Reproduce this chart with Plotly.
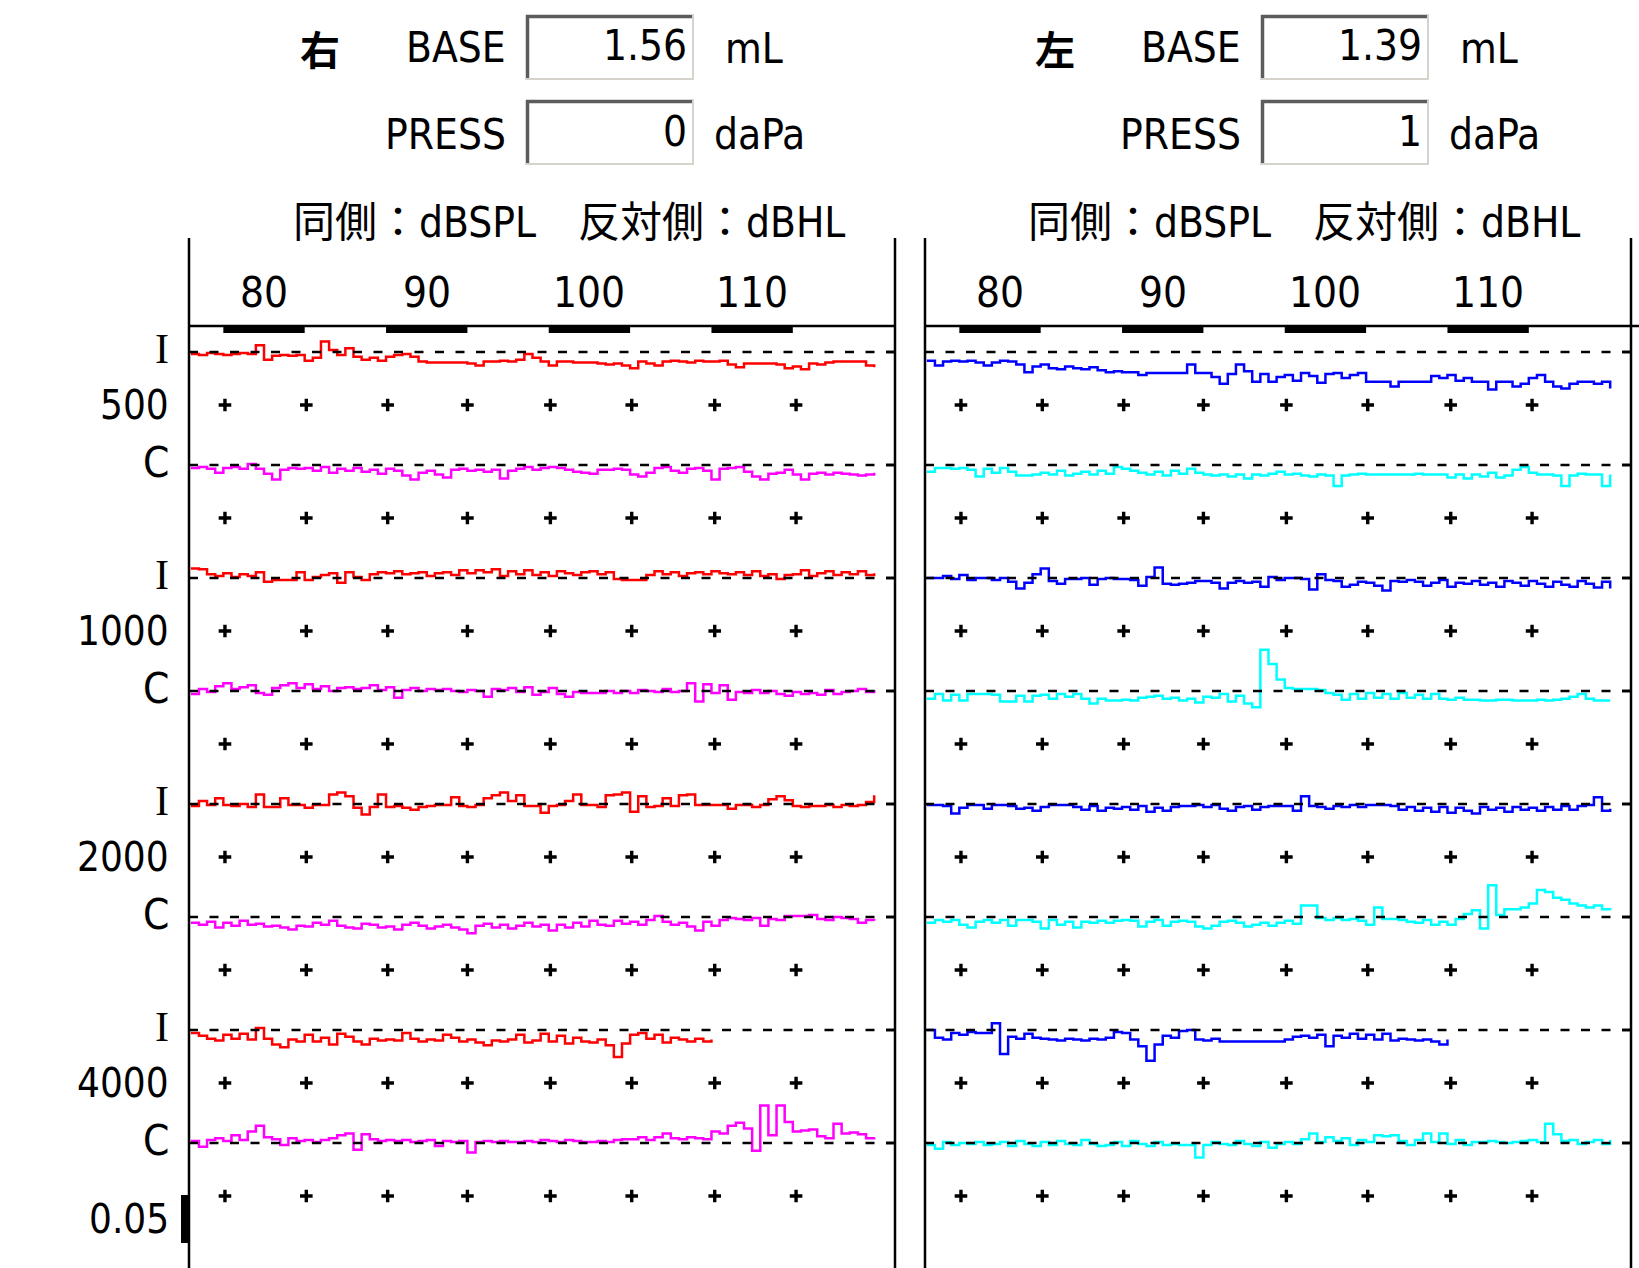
import plotly.graph_objects as go

# ------------------------------------------------------------------ data
EARS = ["右", "左"]                 # left panel = right ear, right panel = left ear
BASE_ML = ["1.56", "1.39"]
PRESS_DAPA = ["0", "1"]
SUBTITLE = "同側：dBSPL　反対側：dBHL"
FREQ_LABELS = ["500", "1000", "2000", "4000"]
ROW_KINDS = ["I", "C"]
TICK_LEVELS = [80, 90, 100, 110]
DOT_LEVELS = [77.6, 82.6, 87.6, 92.5, 97.6, 102.6, 107.7, 112.7]
LEVEL_START = 75.5      # dB, first sample of every trace
LEVEL_STEP = 0.5        # dB between samples
SCALE_BAR_ML = 0.05
UNIT_ML = 0.001         # trace values below are in 1/1000 mL

# right ear (left panel)
RIGHT_500_IPSI = [
    -2, -3, -1, -2, -3, -2, -1, -2, 7, -8,
    -4, -3, -4, -3, -9, -6, 11, 2, -3, 4,
    -5, -8, -6, -9, -5, -3, -2, -5, -10, -11,
    -11, -11, -11, -11, -12, -14, -10, -10, -9, -10,
    -8, -2, -6, -10, -14, -10, -10, -11, -11, -11,
    -12, -13, -12, -14, -17, -10, -12, -14, -10, -9,
    -10, -11, -9, -10, -10, -9, -13, -16, -12, -12,
    -12, -12, -13, -17, -15, -18, -12, -13, -11, -10,
    -10, -10, -10, -14, -16]
RIGHT_500_CONTRA = [
    -3, -2, -4, -8, -3, -2, -4, 1, -4, -9,
    -15, -5, -3, -4, -3, -6, -2, -8, -4, -6,
    -3, -7, -5, -9, -4, -6, -11, -15, -8, -6,
    -10, -13, -5, -4, -6, -5, -7, -5, -14, -6,
    -4, -2, -5, -3, -2, -3, -5, -7, -8, -9,
    -5, -5, -4, -5, -10, -12, -8, -3, -2, -6,
    -8, -4, -3, -6, -15, -4, -3, -2, -7, -12,
    -15, -9, -8, -5, -10, -15, -9, -8, -10, -8,
    -9, -10, -11, -10, -8]
RIGHT_1000_IPSI = [
    10, 9, 4, 2, 5, 1, 4, 2, 6, -4,
    -2, -2, -2, 6, -2, 1, 3, 5, -5, 6,
    1, -2, 4, 6, 5, 7, 4, 5, 6, 2,
    5, 6, 3, 8, 5, 8, 6, 9, 2, 7,
    4, 8, 3, 6, 2, 7, 5, 3, 6, 7,
    4, 6, -1, -2, -2, -2, 3, 7, 4, 6,
    2, 5, 6, 4, 7, 5, 4, 6, 3, 7,
    2, 4, -1, 3, 4, 8, 2, 5, 7, 3,
    6, 4, 7, 3, 5]
RIGHT_1000_CONTRA = [
    -3, 2, -1, 5, 8, 2, 4, 6, -2, -4,
    3, 6, 8, 3, 7, 2, 5, 0, 3, 4,
    2, 3, 6, 1, 4, -7, 1, 3, 0, 2,
    1, 2, 0, -1, 1, 0, -6, 2, 1, 3,
    -1, 4, -4, -1, 3, -3, -6, -1, -2, -2,
    -2, 0, -2, 0, -2, 1, 0, -1, 2, -1,
    0, 8, -11, 7, -2, 6, -9, -1, -2, 1,
    -2, 0, -3, -5, -1, -3, -2, -4, 1, -3,
    -1, 0, 2, -1, 1]
RIGHT_2000_IPSI = [
    -2, 3, -1, 6, -1, -2, 0, -3, 10, -3,
    -3, 6, -1, -1, -4, -1, -1, 10, 12, 8,
    -4, -11, -3, 10, -3, -2, -4, -6, -3, -2,
    -1, -1, 7, -2, -3, -1, 6, 9, 12, 3,
    9, -2, -2, -9, -2, -1, 3, 10, -1, -1,
    -3, 9, 10, 12, -8, 8, -3, -2, 6, -2,
    9, 10, -1, -1, -1, -1, -5, -1, -1, -3,
    -1, 5, 8, 4, -2, -3, -2, -2, -1, -3,
    -1, -2, -1, 2, 9]
RIGHT_2000_CONTRA = [
    -6, -8, -5, -11, -6, -9, -4, -8, -7, -10,
    -9, -11, -13, -9, -10, -6, -8, -4, -9, -11,
    -12, -7, -8, -11, -10, -13, -8, -6, -9, -12,
    -10, -8, -11, -13, -17, -9, -7, -11, -8, -12,
    -9, -6, -10, -8, -14, -8, -11, -6, -10, -4,
    -8, -9, -4, -7, -5, -8, -3, 1, -5, -8,
    -6, -10, -14, -5, -9, -3, -1, -2, -3, -1,
    -9, -2, -3, 1, 1, 1, 2, -2, -3, 0,
    -1, -2, -6, -3, -4]
RIGHT_4000_IPSI = [
    -3, -6, -9, -11, -5, -9, -4, -10, 2, -9,
    -15, -18, -10, -12, -5, -12, -8, -15, -4, -7,
    -12, -15, -9, -11, -10, -11, -3, -9, -12, -10,
    -11, -5, -8, -12, -10, -13, -16, -11, -12, -10,
    -5, -13, -11, -4, -12, -6, -14, -8, -12, -13,
    -10, -16, -28, -14, -5, -3, -9, -5, -13, -8,
    -10, -12, -9, -12, -10]
RIGHT_4000_CONTRA = [
    2, -4, 3, 5, 2, 8, 3, 12, 18, 6,
    4, -2, 5, 2, 3, 1, 3, 5, 8, 10,
    -7, 9, 4, 2, 3, 2, 3, 1, 2, 3,
    -3, 2, 1, 2, -10, 1, 2, 1, 2, 1,
    1, 2, 1, 3, 2, 1, 3, 2, 1, 1,
    2, 1, 3, 4, 4, 6, 3, 6, 10, 5,
    4, 6, 5, 4, 12, 10, 18, 21, 15, -8,
    39, 8, 39, 22, 12, 13, 14, 7, 5, 20,
    10, 11, 9, 5, 6]

# left ear (right panel)
LEFT_500_IPSI = [
    -9, -14, -10, -9, -10, -9, -11, -14, -11, -9,
    -10, -13, -21, -15, -13, -17, -18, -15, -17, -18,
    -16, -19, -21, -20, -21, -21, -24, -22, -22, -22,
    -22, -22, -13, -22, -22, -26, -33, -23, -13, -20,
    -31, -23, -31, -26, -24, -30, -22, -25, -32, -23,
    -22, -27, -24, -22, -31, -31, -31, -36, -31, -31,
    -31, -31, -25, -27, -24, -30, -27, -31, -31, -39,
    -31, -31, -36, -33, -27, -24, -31, -36, -38, -33,
    -31, -31, -33, -31, -38]
LEFT_500_CONTRA = [
    -7, -3, -3, -4, -3, -5, -12, -4, -8, -3,
    -7, -11, -11, -10, -8, -10, -6, -11, -9, -7,
    -10, -6, -9, -2, -4, -6, -8, -10, -7, -11,
    -6, -9, -4, -8, -10, -11, -10, -12, -10, -14,
    -10, -11, -9, -7, -10, -9, -11, -12, -10, -11,
    -22, -11, -10, -9, -10, -10, -10, -10, -10, -10,
    -9, -10, -10, -10, -13, -10, -14, -10, -12, -8,
    -13, -11, -5, -2, -8, -10, -10, -11, -22, -11,
    -9, -10, -10, -22, -10]
LEFT_1000_IPSI = [
    0, 0, 2, -1, 3, -2, 0, 0, -2, 0,
    -4, -11, -5, 4, 10, -3, -6, -1, -1, 0,
    -7, -1, 0, -1, -1, -2, -8, 1, 11, -6,
    -7, -6, -5, -3, -3, -5, -11, -5, -3, -5,
    -4, -9, 1, -2, 0, 0, -1, -12, 4, -2,
    -3, -9, -7, -4, -5, -8, -13, -3, -4, -2,
    -4, -8, -5, -2, -9, -5, -6, -3, -7, -5,
    -9, -3, -5, -8, -3, -6, -9, -4, -7, -9,
    -3, -6, -10, -4, -11]
LEFT_1000_CONTRA = [
    -8, -3, -10, -4, -10, -3, -3, -3, -4, -11,
    -11, -5, -11, -5, -4, -8, -3, -6, -3, -8,
    -13, -8, -10, -10, -9, -10, -7, -6, -5, -8,
    -7, -10, -8, -12, -6, -7, -3, -11, -5, -13,
    -17, 43, 28, 12, 3, 2, 2, 2, 1, -2,
    -4, -9, -3, -8, -2, -7, -3, -8, -2, -7,
    -4, -8, -3, -8, -9, -7, -9, -9, -10, -10,
    -9, -9, -10, -10, -10, -9, -10, -9, -8, -6,
    -3, -8, -10, -10, -10]
LEFT_2000_IPSI = [
    -1, -1, -2, -10, -4, -1, -1, -5, -1, -1,
    -2, -5, -4, -7, -3, -1, -1, -1, -3, -6,
    -2, -7, -4, -5, -3, -6, -2, -8, -4, -7,
    -3, -2, -2, -1, -3, -1, -5, -7, -3, -2,
    -6, -3, -2, -2, -2, -7, 8, -2, -3, -5,
    -2, -3, -1, -3, -1, -1, -1, -2, -6, -3,
    -7, -4, -8, -3, -9, -4, -7, -10, -3, -6,
    -4, -8, -3, -6, -4, -7, -3, -6, -2, -6,
    -2, -1, 7, -7, -5]
LEFT_2000_CONTRA = [
    -6, -3, -5, -3, -8, -11, -5, -3, -6, -3,
    -9, -3, -3, -5, -12, -3, -8, -5, -11, -5,
    -6, -4, -6, -4, -3, -4, -10, -5, -3, -9,
    -5, -4, -5, -10, -12, -9, -5, -4, -6, -10,
    -8, -6, -9, -6, -4, -7, 12, 12, -1, -3,
    -1, -3, -2, -4, -8, 10, -2, -2, -3, -5,
    -6, -3, -8, -5, -8, -2, 3, 7, -12, 33,
    2, 8, 8, 10, 14, 28, 26, 20, 18, 14,
    12, 10, 12, 8, 7]
LEFT_4000_IPSI = [
    0, -8, -10, -3, -5, -2, -3, -3, 7, -25,
    -7, -9, -4, -8, -9, -10, -11, -9, -10, -11,
    -9, -10, -8, -2, -3, -10, -17, -32, -15, -6,
    -8, -1, 0, -10, -11, -9, -12, -12, -12, -12,
    -12, -12, -12, -12, -10, -7, -6, -8, -5, -17,
    -6, -8, -4, -9, -5, -10, -4, -11, -9, -10,
    -11, -10, -12, -15, -10]
LEFT_4000_CONTRA = [
    -2, -6, 1, -2, 0, -1, 1, -2, -1, 1,
    -3, 2, -1, -3, 1, -2, 2, -1, -2, 3,
    -1, -3, -2, 1, -3, 2, -1, -3, 1, -2,
    -1, -2, -2, -15, -2, 1, -1, -2, 2, -1,
    -3, 1, -5, -1, 1, -1, 4, 10, 1, 6,
    2, 5, -2, 3, 1, 8, 7, 8, 2, -2,
    3, 10, 1, 10, -1, 3, -2, 1, 1, 2,
    1, 0, 1, 2, 3, 1, 20, 9, 2, 3,
    -1, 1, 3, -1, 3]

RIGHT_EAR_ROWS = [RIGHT_500_IPSI, RIGHT_500_CONTRA, RIGHT_1000_IPSI, RIGHT_1000_CONTRA,
                  RIGHT_2000_IPSI, RIGHT_2000_CONTRA, RIGHT_4000_IPSI, RIGHT_4000_CONTRA]
LEFT_EAR_ROWS = [LEFT_500_IPSI, LEFT_500_CONTRA, LEFT_1000_IPSI, LEFT_1000_CONTRA,
                 LEFT_2000_IPSI, LEFT_2000_CONTRA, LEFT_4000_IPSI, LEFT_4000_CONTRA]

# ------------------------------------------------------------------ layout
W, H = 1639, 1268
PX_PER_ML = 960.0
BASE0_PX = 352                      # pixel row of the first baseline
ROW_PITCH_ML = 113 / PX_PER_ML
DOT_OFFSET_ML = 53 / PX_PER_ML
X_RANGE = [75.39, 118.78]
Y_RANGE = [(BASE0_PX - H) / PX_PER_ML, BASE0_PX / PX_PER_ML]
FONT = "Liberation Sans Narrow, Arial Narrow, DejaVu Sans Condensed, Noto Sans CJK JP, sans-serif"
FSIZE = 42

PANELS = [
    dict(xa="x", x0=189, x1=895, dx=0, ear=0, rows=RIGHT_EAR_ROWS, colors=["#ff0000", "#ff00ff"]),
    dict(xa="x2", x0=925, x1=1631, dx=735, ear=1, rows=LEFT_EAR_ROWS, colors=["#0000ff", "#00ffff"]),
]


def px(xp):
    return xp / W


def py(yp):
    return 1 - yp / H


def baseline(k):
    return -k * ROW_PITCH_ML


fig = go.Figure()
shapes = []
annotations = []


def ann(text, x, y, xanchor="center", xref="paper", yref="paper", size=FSIZE,
        family=FONT, yshift=0):
    annotations.append(dict(text=text, x=x, y=y, xref=xref, yref=yref, xanchor=xanchor,
                            yanchor="middle", showarrow=False, yshift=yshift,
                            font=dict(family=family, size=size, color="black")))


def line(x0, y0, x1, y1, width=2.5, color="black", dash=None, xref="paper", yref="paper"):
    d = dict(type="line", x0=x0, y0=y0, x1=x1, y1=y1, xref=xref, yref=yref,
             line=dict(color=color, width=width))
    if dash:
        d["line"]["dash"] = dash
    shapes.append(d)


def sunken_box(bx0, by0, bx1, by1):
    shapes.append(dict(type="rect", xref="paper", yref="paper", x0=px(bx0), x1=px(bx1),
                       y0=py(by1), y1=py(by0), fillcolor="white", line=dict(width=0)))
    line(px(bx0), py(by0 + 1.5), px(bx1), py(by0 + 1.5), width=3.5, color="#5c5c5c")
    line(px(bx0 + 1.5), py(by0), px(bx0 + 1.5), py(by1), width=3.5, color="#5c5c5c")
    line(px(bx0), py(by1 - 1), px(bx1), py(by1 - 1), width=2, color="#d6d3cc")
    line(px(bx1 - 1), py(by0), px(bx1 - 1), py(by1), width=2, color="#d6d3cc")


for p in PANELS:
    dx = p["dx"]
    xa = p["xa"]
    # header
    ann("<b>%s</b>" % EARS[p["ear"]], px(320 + dx), py(48), family="Noto Sans CJK JP", size=40)
    ann("BASE", px(508 + dx), py(48), xanchor="right")
    sunken_box(526 + dx, 15, 694 + dx, 80)
    ann(BASE_ML[p["ear"]], px(689 + dx), py(46), xanchor="right")
    ann("mL", px(723 + dx), py(49), xanchor="left")
    ann("PRESS", px(508 + dx), py(134), xanchor="right")
    sunken_box(526 + dx, 100, 694 + dx, 165)
    ann(PRESS_DAPA[p["ear"]], px(689 + dx), py(131), xanchor="right")
    ann("daPa", px(712 + dx), py(134), xanchor="left")
    ann(SUBTITLE, px(569 + dx), py(222))
    # frame
    line(px(p["x0"]), py(238), px(p["x0"]), 0)
    line(px(p["x1"]), py(238), px(p["x1"]), 0)
    line(px(p["x0"]), py(326), px(p["x1"] + (8 if dx else 0)), py(326))
    # level ticks
    for t in TICK_LEVELS:
        ann(str(t), t, py(292), xref=xa)
        shapes.append(dict(type="rect", xref=xa, yref="paper", x0=t - 2.5, x1=t + 2.5,
                           y0=py(333), y1=py(327), fillcolor="black", line=dict(width=0)))
    # baselines and dot grid
    dot_x, dot_y = [], []
    for k in range(len(p["rows"])):
        line(X_RANGE[0], baseline(k), X_RANGE[1], baseline(k), width=2.6,
             dash="9px,11.5px", xref=xa, yref="y")
        line(X_RANGE[1] - 0.55, baseline(k), X_RANGE[1], baseline(k), width=2.6,
             xref=xa, yref="y")
        for d in DOT_LEVELS:
            dot_x.append(d)
            dot_y.append(baseline(k) - DOT_OFFSET_ML)
    fig.add_trace(go.Scatter(x=dot_x, y=dot_y, xaxis=xa, yaxis="y", mode="markers",
                             marker=dict(symbol="cross-thin", size=9, color="black",
                                         line=dict(width=3.4, color="black")),
                             hoverinfo="skip", showlegend=False))
    # reflex traces
    for k, vals in enumerate(p["rows"]):
        xs = [LEVEL_START + LEVEL_STEP * i for i in range(len(vals))]
        ys = [baseline(k) + v * UNIT_ML for v in vals]
        fig.add_trace(go.Scatter(x=xs, y=ys, xaxis=xa, yaxis="y", mode="lines",
                                 line=dict(color=p["colors"][k % 2], width=2.5, shape="hv"),
                                 hoverinfo="skip", showlegend=False))

# row labels
for k in range(8):
    kind = ROW_KINDS[k % 2]
    fam = "Liberation Serif, serif" if kind == "I" else FONT
    ann(kind, px(171), baseline(k), xanchor="right", yref="y", yshift=3, family=fam)
    if k % 2 == 0:
        ann(FREQ_LABELS[k // 2], px(171), baseline(k) - DOT_OFFSET_ML, xanchor="right",
            yref="y", size=40)

# scale bar
bar_bottom = (BASE0_PX - 1243) / PX_PER_ML
shapes.append(dict(type="rect", xref="paper", yref="y", x0=px(181), x1=px(188),
                   y0=bar_bottom, y1=bar_bottom + SCALE_BAR_ML, fillcolor="black",
                   line=dict(width=0)))
ann("%.2f" % SCALE_BAR_ML, px(171), bar_bottom + SCALE_BAR_ML / 2, xanchor="right",
    yref="y", size=40)

axis_common = dict(range=X_RANGE, visible=False, showgrid=False, zeroline=False, fixedrange=True)
fig.update_layout(
    width=W, height=H, margin=dict(l=0, r=0, t=0, b=0),
    paper_bgcolor="white", plot_bgcolor="white", showlegend=False,
    xaxis=dict(domain=[px(189), px(895)], anchor="y", **axis_common),
    xaxis2=dict(domain=[px(925), px(1631)], anchor="y", **axis_common),
    yaxis=dict(domain=[0, 1], range=Y_RANGE, visible=False, showgrid=False,
               zeroline=False, fixedrange=True),
    shapes=shapes, annotations=annotations,
)
fig.write_html("out.html")
